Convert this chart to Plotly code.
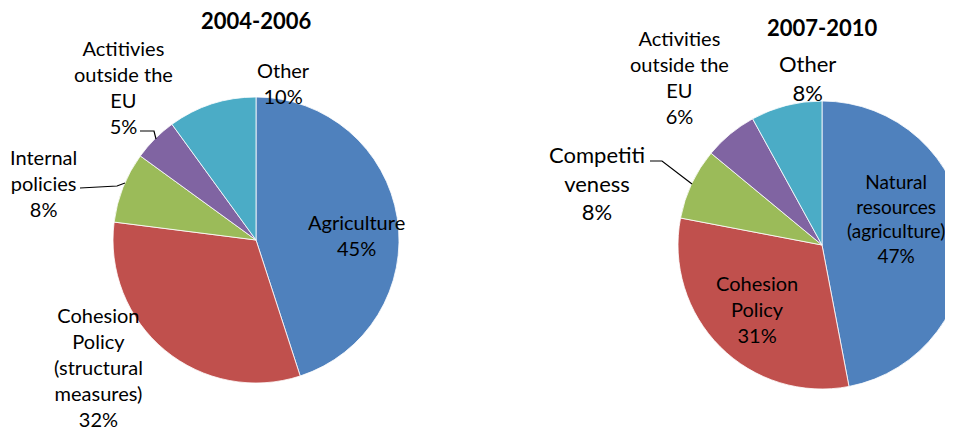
import plotly.graph_objects as go

# figure is drawn 8px in from the page's top-left corner (page margin)
OFF = 8
W, H = 975, 430

# ---- data ----
cats_0406 = ["Agriculture", "Cohesion Policy (structural measures)", "Internal policies",
             "Actitivies outside the EU", "Other"]
vals_0406 = [45, 32, 8, 5, 10]
cats_0710 = ["Natural resources (agriculture)", "Cohesion Policy", "Competitiveness",
             "Activities outside the EU", "Other"]
vals_0710 = [47, 31, 8, 6, 8]
colors = ["#4F81BD", "#C0504D", "#9BBB59", "#8064A2", "#4BACC6"]


def px(x):
    return (x - OFF) / W


def py(y):
    return 1 - (y - OFF) / H


FONT = "Lato"
fig = go.Figure()
fig.add_trace(go.Pie(
    labels=cats_0406, values=vals_0406, sort=False, direction="clockwise", rotation=0,
    marker=dict(colors=colors, line=dict(color="rgba(255,255,255,0.8)", width=1)),
    textinfo="none", domain=dict(x=[px(113), px(399)], y=[py(383), py(97)]),
    showlegend=False, name="2004-2006"))
fig.add_trace(go.Pie(
    labels=cats_0710, values=vals_0710, sort=False, direction="clockwise", rotation=0,
    marker=dict(colors=colors, line=dict(color="rgba(255,255,255,0.8)", width=1)),
    textinfo="none", domain=dict(x=[px(678), px(966)], y=[py(389), py(101)]),
    showlegend=False, name="2007-2010"))


def pct(v):
    return f"{v}%"


labels = [
    # (text, x, y, size, bold)
    ("2004-2006", 256, 20, 22, True),
    ("2007-2010", 822, 28, 22, True),
    (f"Agriculture<br>{pct(vals_0406[0])}", 356, 235, 20, False),
    (f"Cohesion<br>Policy<br>(structural<br>measures)<br>{pct(vals_0406[1])}", 98, 367, 20, False),
    (f"Internal<br>policies<br>{pct(vals_0406[2])}", 43, 183, 20, False),
    (f"Actitivies<br>outside the<br>EU<br>{pct(vals_0406[3])}", 123, 87, 20, False),
    (f"Other<br>{pct(vals_0406[4])}", 283, 83, 20, False),
    (f"Natural<br>resources<br>(agriculture)<br>{pct(vals_0710[0])}", 896, 218, 19, False),
    (f"Cohesion<br>Policy<br>{pct(vals_0710[1])}", 757, 309, 20, False),
    (f"Competiti<br>veness<br>{pct(vals_0710[2])}", 597, 183, 22, False),
    (f"Activities<br>outside the<br>EU<br>{pct(vals_0710[3])}", 679, 77, 20, False),
    (f"Other<br>{pct(vals_0710[4])}", 807, 78, 22, False),
]
for text, x, y, size, bold in labels:
    fig.add_annotation(
        text=f"<b>{text}</b>" if bold else text, x=px(x), y=py(y), xref="paper", yref="paper",
        xanchor="center", yanchor="middle", showarrow=False,
        font=dict(family=FONT, size=size, color="black"))

# leader lines
leaders = [
    [(140, 131), (154, 131), (156, 139)],
    [(80, 188), (117, 186), (125, 183)],
    [(650, 161), (662, 161), (692, 184)],
]
for pts in leaders:
    path = "M " + " L ".join(f"{px(a)},{py(b)}" for a, b in pts)
    fig.add_shape(type="path", path=path, xref="paper", yref="paper",
                  line=dict(color="black", width=1.2))

fig.update_layout(
    width=W, height=H, margin=dict(l=0, r=0, t=0, b=0),
    paper_bgcolor="white", plot_bgcolor="white", showlegend=False,
    font=dict(family=FONT))

fig.write_html("out.html")
